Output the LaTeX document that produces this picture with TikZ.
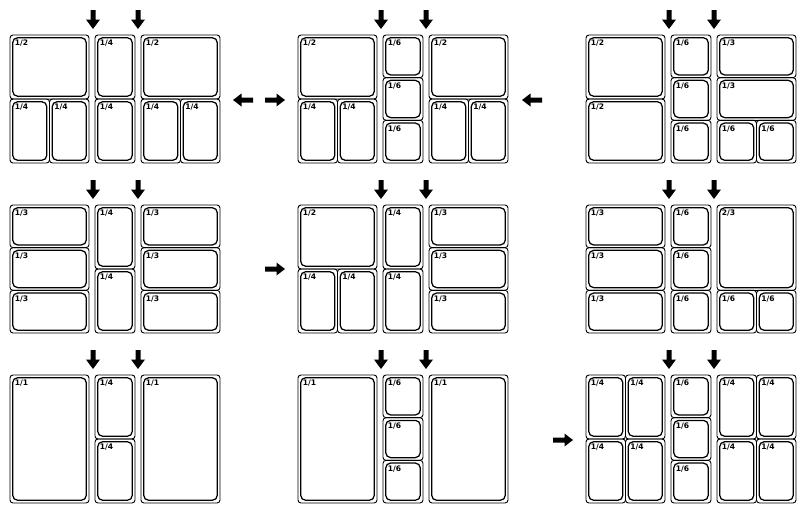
\documentclass[tikz,border=0pt]{standalone}
\usepackage{fontspec}
\newfontfamily\lblfont{DejaVu Sans}
\tikzset{
  outerline/.style={draw=black, line width=0.9pt, rounded corners=3pt},
  innerline/.style={draw=black, line width=1.25pt, rounded corners=5pt},
  lbl/.style={inner sep=0pt, anchor=north west, font=\lblfont\bfseries\fontsize{7.6}{8}\selectfont},
  arrowfill/.style={fill=black, draw=none}
}
% cell: x, y (top-left, relative), width, height, label
\newcommand\gncell[5]{%
  \begin{scope}[shift={({#1},{#2})}]
    \draw[outerline] (0,0) rectangle ({#3},{#4});
    \draw[innerline] (2.7,2.7) rectangle ({#3-2.7},{#4-2.7});
    \node[lbl] at (4.6,5.0) {#5};
  \end{scope}}
% column layouts (x offset)
\newcommand\colHQQ[1]{\gncell{#1}{0}{79}{64}{1/2}\gncell{#1}{64}{39.5}{64}{1/4}\gncell{#1+39.5}{64}{39.5}{64}{1/4}}
\newcommand\colHH[1]{\gncell{#1}{0}{79}{64}{1/2}\gncell{#1}{64}{79}{64}{1/2}}
\newcommand\colTTT[1]{\gncell{#1}{0}{79}{42.667}{1/3}\gncell{#1}{42.667}{79}{42.667}{1/3}\gncell{#1}{85.333}{79}{42.667}{1/3}}
\newcommand\colFull[1]{\gncell{#1}{0}{79}{128}{1/1}}
\newcommand\colQQQQ[1]{\gncell{#1}{0}{39.5}{64}{1/4}\gncell{#1+39.5}{0}{39.5}{64}{1/4}\gncell{#1}{64}{39.5}{64}{1/4}\gncell{#1+39.5}{64}{39.5}{64}{1/4}}
\newcommand\colTTSS[1]{\gncell{#1}{0}{79}{42.667}{1/3}\gncell{#1}{42.667}{79}{42.667}{1/3}\gncell{#1}{85.333}{39.5}{42.667}{1/6}\gncell{#1+39.5}{85.333}{39.5}{42.667}{1/6}}
\newcommand\colTwoSS[1]{\gncell{#1}{0}{79}{85.333}{2/3}\gncell{#1}{85.333}{39.5}{42.667}{1/6}\gncell{#1+39.5}{85.333}{39.5}{42.667}{1/6}}
\newcommand\midQQ{\gncell{85}{0}{40}{64}{1/4}\gncell{85}{64}{40}{64}{1/4}}
\newcommand\midSSS{\gncell{85}{0}{40}{42.667}{1/6}\gncell{85}{42.667}{40}{42.667}{1/6}\gncell{85}{85.333}{40}{42.667}{1/6}}
% down arrows above a panel
\newcommand\downarrows{%
  \foreach \cx in {83,128}{%
    \fill[arrowfill] (\cx-2.5,-25) -- (\cx+2.5,-25) -- (\cx+2.5,-15.5) -- (\cx+7,-15.5) -- (\cx,-6) -- (\cx-7,-15.5) -- (\cx-2.5,-15.5) -- cycle;}}
% horizontal arrows: tip x, y
\newcommand\rarrow[2]{\fill[arrowfill, shift={({#1},{#2})}] (-20,-2.5) -- (-8.5,-2.5) -- (-8.5,-6.5) -- (0,0) -- (-8.5,6.5) -- (-8.5,2.5) -- (-20,2.5) -- cycle;}
\newcommand\larrow[2]{\fill[arrowfill, shift={({#1},{#2})}] (20,-2.5) -- (8.5,-2.5) -- (8.5,-6.5) -- (0,0) -- (8.5,6.5) -- (8.5,2.5) -- (20,2.5) -- cycle;}
\begin{document}
\begin{tikzpicture}[x=1pt, y=-1pt]
\useasboundingbox (0,0) rectangle (809,523);
% Row 1
\begin{scope}[shift={(10,35)}]
  \colHQQ{0}\midQQ\colHQQ{131}\downarrows
\end{scope}
\begin{scope}[shift={(298,35)}]
  \colHQQ{0}\midSSS\colHQQ{131}\downarrows
\end{scope}
\begin{scope}[shift={(586,35)}]
  \colHH{0}\midSSS\colTTSS{131}\downarrows
\end{scope}
% Row 2
\begin{scope}[shift={(10,205)}]
  \colTTT{0}\midQQ\colTTT{131}\downarrows
\end{scope}
\begin{scope}[shift={(298,205)}]
  \colHQQ{0}\midQQ\colTTT{131}\downarrows
\end{scope}
\begin{scope}[shift={(586,205)}]
  \colTTT{0}\midSSS\colTwoSS{131}\downarrows
\end{scope}
% Row 3
\begin{scope}[shift={(10,375)}]
  \colFull{0}\midQQ\colFull{131}\downarrows
\end{scope}
\begin{scope}[shift={(298,375)}]
  \colFull{0}\midSSS\colFull{131}\downarrows
\end{scope}
\begin{scope}[shift={(586,375)}]
  \colQQQQ{0}\midSSS\colQQQQ{131}\downarrows
\end{scope}
% horizontal arrows
\larrow{233}{100}
\rarrow{285}{100}
\larrow{522}{100}
\rarrow{285}{269}
\rarrow{573}{440}
\end{tikzpicture}
\end{document}
